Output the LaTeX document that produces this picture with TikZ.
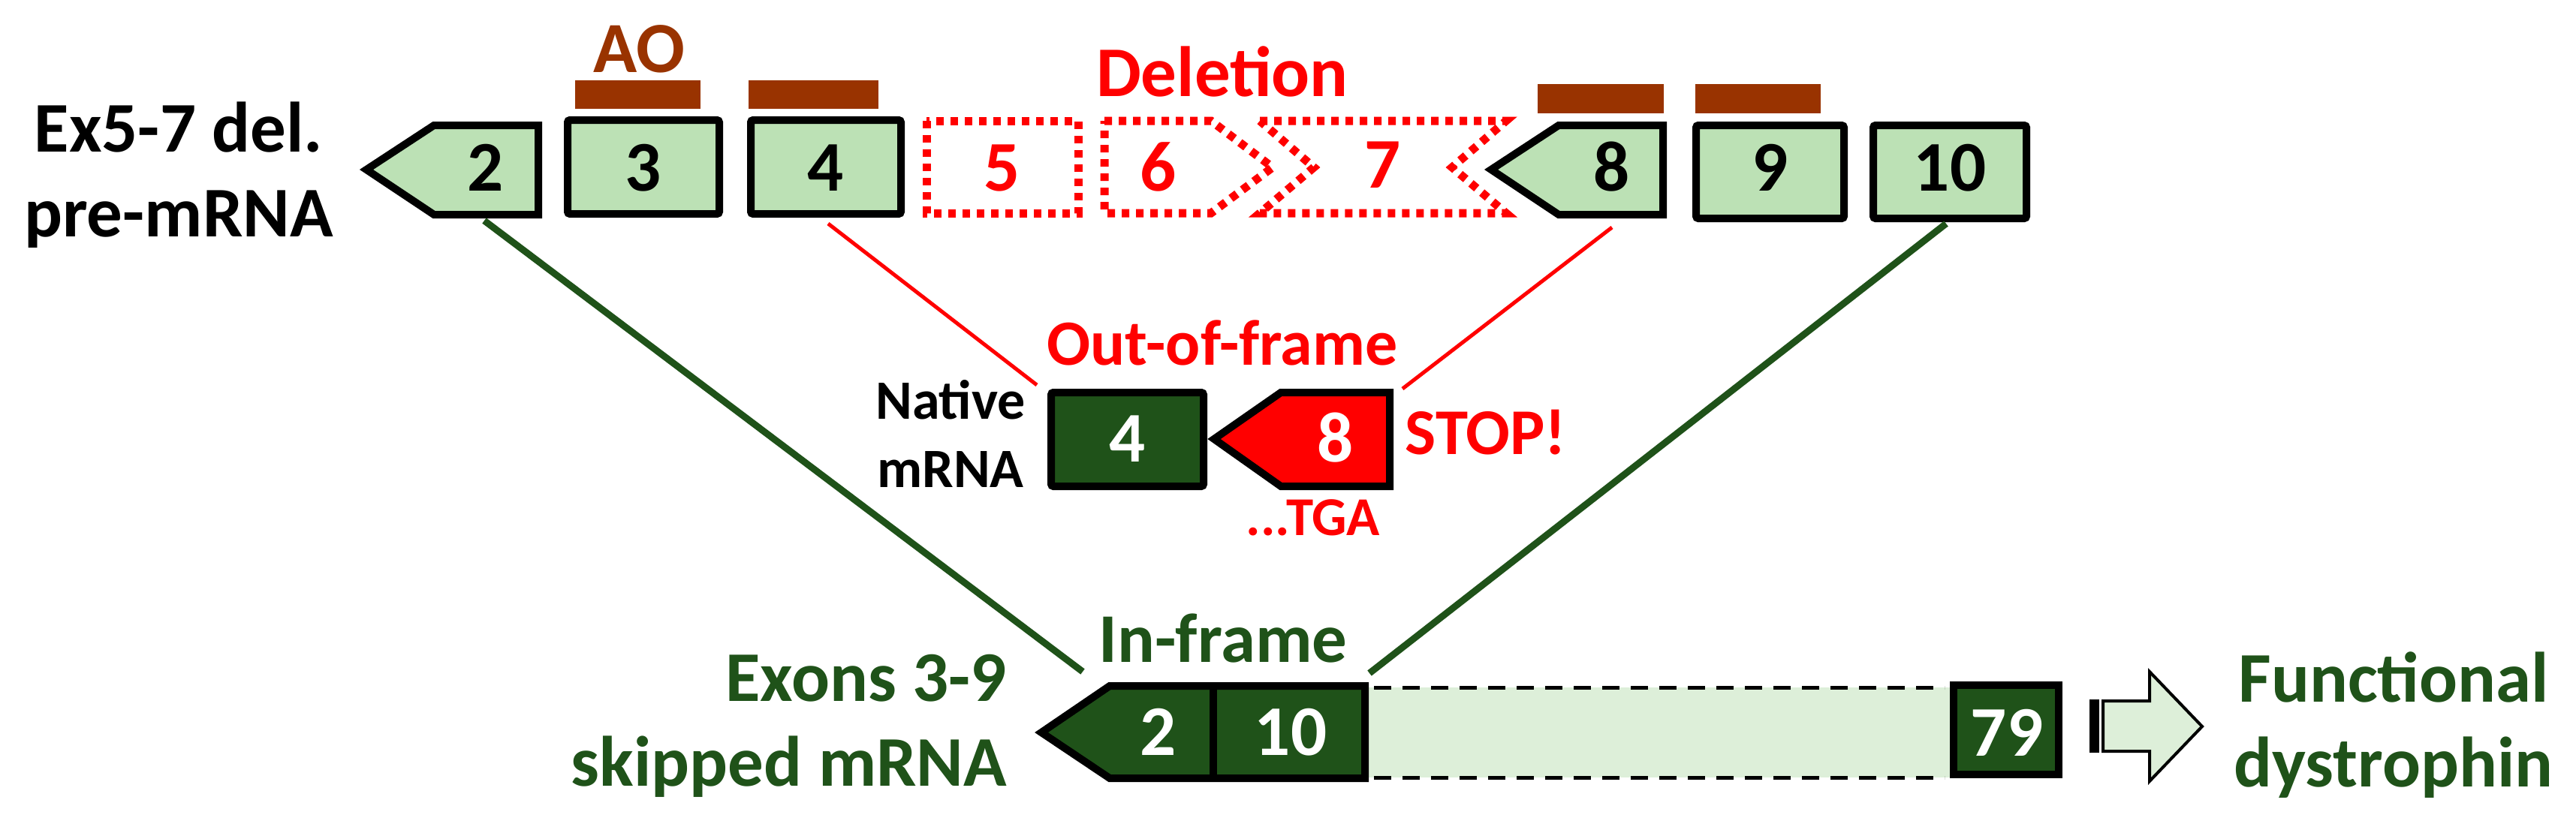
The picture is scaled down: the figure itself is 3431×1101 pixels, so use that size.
\documentclass[tikz,border=0pt]{standalone}
\usepackage{fontspec}
\setmainfont{Carlito}
\definecolor{exg}{HTML}{BCE1B5}
\definecolor{dkg}{HTML}{1F5219}
\definecolor{lgb}{HTML}{DDEFD9}
\definecolor{aoc}{HTML}{993300}
\newcommand\myfs[2]{\fontsize{#1}{#2}\selectfont\bfseries}
\begin{document}
\begin{tikzpicture}[x=1pt,y=-1pt,
  exon/.style={draw=black, line width=10pt, fill=exg, line join=miter},
  delex/.style={draw=red, line width=11pt, dash pattern=on 10pt off 9pt, line join=miter},
  txt/.style={inner sep=0pt, anchor=base},
  num/.style={txt, font=\myfs{95}{113}},
  wnum/.style={num, text=white},
  aobar/.style={fill=aoc},
  gline/.style={draw=dkg, line width=9pt},
  rline/.style={draw=red, line width=5pt}]
\useasboundingbox (0,0) rectangle (3431,1101);

% antisense oligos
\fill[aobar] (766,107) rectangle (933,145);
\fill[aobar] (997,107) rectangle (1170,145);
\fill[aobar] (2048,112) rectangle (2216,151);
\fill[aobar] (2258,112) rectangle (2425,151);
\node[txt, text=aoc, font=\myfs{96}{113}] (ao) at (851,96) {AO};
\node[txt, text=red, font=\myfs{95}{113}] (del) at (1628,128) {Deletion};

% left label
\node[inner sep=0pt, align=center, font=\myfs{95}{113}] (pre) at (238,233) {Ex5-7 del.\\pre-mRNA};

% pre-mRNA exons
\draw[exon] (488,226) -- (578,167) -- (717,167) -- (717,286) -- (578,286) -- cycle;
\draw[exon, rounded corners=3pt] (756,160) rectangle (958,285);
\draw[exon, rounded corners=3pt] (1000,160) rectangle (1200,285);
\draw[delex] (1234,161) rectangle (1436,284);
\draw[delex] (1471,161) -- (1613,161) -- (1695,223) -- (1613,284) -- (1471,284) -- cycle;
\draw[delex] (1678,161) -- (2006,161) -- (1934,223) -- (2006,284) -- (1678,284) -- (1750,223) -- cycle;
\draw[exon] (1986,226) -- (2076,167) -- (2215,167) -- (2215,286) -- (2076,286) -- cycle;
\draw[exon, rounded corners=3pt] (2259,167) rectangle (2456,291);
\draw[exon, rounded corners=3pt] (2495,167) rectangle (2699,291);

\node[num] (n2) at (647,254) {2};
\node[num] (n3) at (857,254) {3};
\node[num] (n4) at (1100,254) {4};
\node[num, text=red] (n5) at (1335,254) {5};
\node[num, text=red] (n6) at (1543,254) {6};
\node[num, text=red] (n7) at (1842,250) {7};
\node[num] (n8) at (2147,254) {8};
\node[num] (n9) at (2358,254) {9};
\node[num] (n10) at (2597,254) {10};

% native mRNA
\node[txt, text=red, font=\myfs{86}{105}] (oof) at (1628,486) {Out-of-frame};
\node[inner sep=0pt, align=center, font=\myfs{74}{91}] (nat) at (1266,578) {Native\\mRNA};
\draw[exon, fill=dkg, rounded corners=3pt] (1400,523) rectangle (1603,648);
\draw[exon, fill=red] (1617,585) -- (1706,523) -- (1851,523) -- (1851,648) -- (1706,648) -- cycle;
\node[wnum] (m4) at (1502,615) {4};
\node[wnum] (m8) at (1779,615) {8};
\node[txt, text=red, font=\myfs{87}{105}] (stop) at (1979,605) {STOP!};
\node[txt, text=red, font=\myfs{73}{90}] (tga) at (1749,713) {...TGA};

% skipped mRNA
\node[txt, text=dkg, font=\myfs{93}{113}] (inf) at (1629,882) {In-frame};
\node[inner sep=0pt, align=right, anchor=east, text=dkg, font=\myfs{95}{113}] (skp) at (1341,967) {Exons 3-9\\skipped mRNA};
\fill[lgb] (1823,916) rectangle (2600,1036);
\draw[line width=5pt, dash pattern=on 23pt off 15pt] (1830,916) -- (2590,916);
\draw[line width=5pt, dash pattern=on 23pt off 15pt] (1830,1036) -- (2590,1036);
\draw[exon, fill=dkg] (1387,976) -- (1478,914) -- (1818,914) -- (1818,1037) -- (1478,1037) -- cycle;
\draw[line width=10pt] (1616,914) -- (1616,1037);
\draw[exon, fill=dkg] (2602,913) rectangle (2742,1032);
\node[wnum] (b2) at (1543,1006) {2};
\node[wnum] (b10) at (1719,1006) {10};
\node[wnum] (b79) at (2673,1007) {79};

% block arrow
\fill[black] (2783,932) rectangle (2796,1003);
\draw[line width=4pt, fill=lgb, line join=miter] (2801,934) -- (2863,934) -- (2863,895) -- (2933,968) -- (2863,1041) -- (2863,1001) -- (2801,1001) -- cycle;
\node[inner sep=0pt, align=center, text=dkg, font=\myfs{95}{113}] (fd) at (3188,966) {Functional\\dystrophin};

% connectors
\coordinate (e2b) at (645,294);
\coordinate (e10b) at (2592,298);
\coordinate (bl) at (1442,895);
\coordinate (br) at (1824,897);
\coordinate (e4b) at (1103,298);
\coordinate (e8b) at (2147,303);
\coordinate (nl) at (1381,513);
\coordinate (nr) at (1868,518);
\draw[gline] (e2b) -- (bl);
\draw[gline] (e10b) -- (br);
\draw[rline] (e4b) -- (nl);
\draw[rline] (e8b) -- (nr);
\end{tikzpicture}
\end{document}
